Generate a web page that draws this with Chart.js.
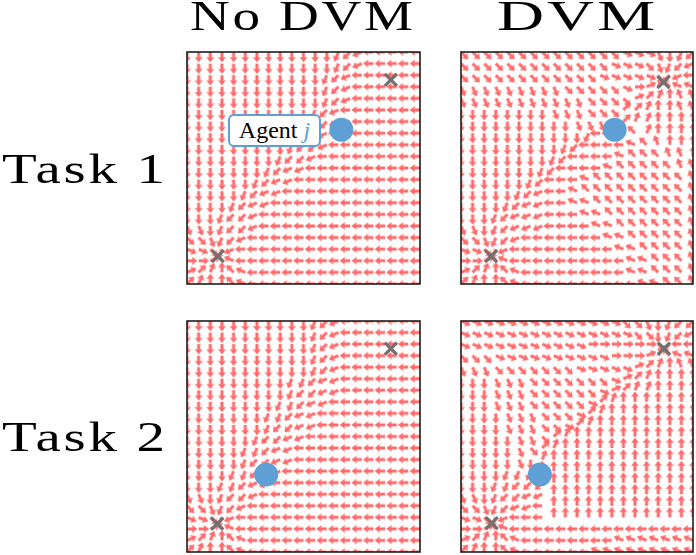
<!DOCTYPE html>
<html>
<head>
<meta charset="utf-8">
<script src="https://cdn.jsdelivr.net/npm/chart.js@4.4.1/dist/chart.umd.min.js"></script>
<style>
  body { margin: 0; background: #fff; }
  #wrap { position: relative; width: 696px; height: 555px; overflow: hidden; background: #fff; }
  #wrap canvas { position: absolute; }
  .lbl { position: absolute; font-family: "Liberation Serif", serif; font-size: 42px; line-height: 42px; white-space: pre; color: #000;
    letter-spacing: 2px; transform-origin: 0 0; }
  #agentTag { position: absolute; left: 228px; top: 114px; width: 89px; height: 29px; border: 2.5px solid #5ea0d6; border-radius: 6px; background: #fff;
    font-family: "Liberation Serif", serif; font-size: 24px; line-height: 29px; text-align: center; color: #000; box-sizing: content-box; }
  #agentTag i { color: #5ea0d6; }
</style>
</head>
<body>
<div id="wrap">
  <div class="lbl" id="colT0"></div>
  <div class="lbl" id="colT1"></div>
  <div class="lbl" id="rowT0"></div>
  <div class="lbl" id="rowT1"></div>
  <canvas id="c0"></canvas>
  <canvas id="c1"></canvas>
  <canvas id="c2"></canvas>
  <canvas id="c3"></canvas>
  <div id="agentTag">Agent <i>j</i></div>
</div>
<script>
const columnTitles = ["No DVM", "DVM"];
const rowTitles = ["Task 1", "Task 2"];

// grid of the quiver, arrow tails sit on these values
const gridX = [0, 1, 2, 3, 4, 5, 6, 7, 8, 9, 10, 11, 12, 13, 14, 15, 16, 17, 18, 19, 20];
const gridY = [20, 19, 18, 17, 16, 15, 14, 13, 12, 11, 10, 9, 8, 7, 6, 5, 4, 3, 2, 1, 0];

// arrow direction, one hex digit per arrow, top row first
// 0 = right, counter-clockwise in steps of 22.5 deg (4 = up, 8 = left, c = down)
const task1NoDvm = [
  "cccccccccccccba988888",
  "cccccccccccccba988888",
  "ccccccccccccba9888888",
  "ccccccccccccba9888888",
  "ccccccccccccba9888888",
  "cccccccccccba98888888",
  "cccccccccccba98888888",
  "ccccccccccba988888888",
  "cccccccccbaa988888888",
  "ccccccccbaa9888888888",
  "cccccccba998888888888",
  "ccccccba9988888888888",
  "cccccba99888888888888",
  "ccccba998888888888888",
  "cccbaa988888888888888",
  "ddcbaa988888888888888",
  "eedba9888888888888888",
  "ffeb98888888888888888",
  "001678888888888888888",
  "123467888888888888888",
  "234467888888888888888"
];
const task1Dvm = [
  "eeeeeeeeeeeeeefffdcba",
  "eeeeeeeeeeeeefffedba9",
  "eeeeeeeeeeeefffffda98",
  "dddddddddeeeeef013677",
  "dddddddddddeeee123455",
  "ccccccccdddeee2234455",
  "ccccccccccddde2334444",
  "cccccccccccb888634444",
  "cccccccccba8888765444",
  "ccccccccba88887666554",
  "cccccccba888876666655",
  "ccccccba8887666666665",
  "cccccba98876666666665",
  "ccccba998877666666665",
  "cccba9998887766666665",
  "ddcba9998888776666665",
  "eedba9888888877666665",
  "ffeb98888888887766665",
  "001678888888888776665",
  "123467888888888776665",
  "234467888888888877665"
];
const task2NoDvm = [
  "cccccccccccba98888888",
  "cccccccccccba98888888",
  "cccccccccccba98888888",
  "cccccccccccba98888888",
  "cccccccccccba98888888",
  "cccccccccbba998888888",
  "cccccccccbaa998888888",
  "ccccccccbba9988888888",
  "cccccccbba99888888888",
  "cccccccbaa99888888888",
  "ccccccbaa998888888888",
  "cccccbba9988888888888",
  "cccccbaa9988888888888",
  "ccccbba99888888888888",
  "cccbba998888888888888",
  "ddcbaa988888888888888",
  "eedba9888888888888888",
  "ffeb98888888888888888",
  "001678888888888888888",
  "123467888888888888888",
  "234467888888888888888"
];
const task2Dvm = [
  "ffffffffffffffeedcbaa",
  "fffffffffffffffeecba9",
  "fffffffffff000000ea88",
  "eeeffffffffff00013677",
  "dddeeeeeeefffff123455",
  "cccdddeeeeeeef1234444",
  "cccdddeeeeeef12334444",
  "cccdddeeeeef234444444",
  "ccccdddeeef2344444444",
  "ccccdddeef23444444444",
  "cccccdde2344444444444",
  "cccccde23444444444444",
  "cccccdc34444444444444",
  "ccccbbb44444444444444",
  "cccbbaaa4444444444444",
  "ddcbaa994444444444444",
  "eedba9984444444444444",
  "ffeb98884444444444444",
  "001678888888888888888",
  "123467888888887777777",
  "234467888888777777777"
];

// goal crosses and agent j, in grid units
const goalsTask1NoDvm = [{ x: 2.65, y: 2.4 }, { x: 17.5, y: 17.6 }];
const goalsTask1Dvm = [{ x: 2.6, y: 2.4 }, { x: 17.45, y: 17.4 }];
const goalsTask2NoDvm = [{ x: 2.6, y: 2.45 }, { x: 17.5, y: 17.6 }];
const goalsTask2Dvm = [{ x: 2.65, y: 2.5 }, { x: 17.5, y: 17.6 }];
const agentTask1 = [{ x: 13.25, y: 13.3 }];
const agentTask2 = [{ x: 6.8, y: 6.7 }];

const arrowColor = "#ff6a6a";
const goalColor = "#717171";
const agentColor = "#5ea0d6";
const pad = 3;

const panels = [
  { canvas: "c0", left: 187, top: 52, w: 233, h: 232, field: task1NoDvm, goals: goalsTask1NoDvm, agent: agentTask1 },
  { canvas: "c1", left: 461, top: 52, w: 232, h: 232, field: task1Dvm, goals: goalsTask1Dvm, agent: agentTask1 },
  { canvas: "c2", left: 187, top: 321, w: 233, h: 231, field: task2NoDvm, goals: goalsTask2NoDvm, agent: agentTask2 },
  { canvas: "c3", left: 461, top: 321, w: 232, h: 231, field: task2Dvm, goals: goalsTask2Dvm, agent: agentTask2 }
];

// quiver arrow, the tail is the middle of the image so it pivots there
function makeArrow() {
  const c = document.createElement("canvas");
  c.width = 26;
  c.height = 12;
  const g = c.getContext("2d");
  const x0 = 13, y0 = 6;
  g.fillStyle = arrowColor;
  g.beginPath();
  g.moveTo(x0, y0 - 1.5);
  g.lineTo(x0 + 5.6, y0 - 1.5);
  g.lineTo(x0 + 5.0, y0 - 3.9);
  g.lineTo(x0 + 10.4, y0);
  g.lineTo(x0 + 5.0, y0 + 3.9);
  g.lineTo(x0 + 5.6, y0 + 1.5);
  g.lineTo(x0, y0 + 1.5);
  g.closePath();
  g.fill();
  return c;
}
const arrowImg = makeArrow();

const framePlugin = {
  id: "frame",
  afterDatasetsDraw(chart) {
    const a = chart.chartArea;
    const g = chart.ctx;
    g.save();
    g.strokeStyle = "#1d1d1d";
    g.lineWidth = 1.6;
    g.strokeRect(a.left, a.top, a.right - a.left, a.bottom - a.top);
    g.restore();
  }
};

panels.forEach((p) => {
  const cv = document.getElementById(p.canvas);
  cv.width = p.w + pad * 2;
  cv.height = p.h + pad * 2;
  cv.style.left = (p.left - pad) + "px";
  cv.style.top = (p.top - pad) + "px";

  const arrows = [];
  p.field.forEach((row, r) => {
    for (let c = 0; c < row.length; c++) {
      arrows.push({ x: gridX[c], y: gridY[r], a: parseInt(row[c], 16) * 22.5 });
    }
  });

  new Chart(cv.getContext("2d"), {
    type: "scatter",
    data: {
      datasets: [
        {
          data: p.agent,
          pointStyle: "circle",
          pointRadius: 12,
          pointBorderWidth: 0,
          pointBackgroundColor: agentColor,
          clip: 0
        },
        {
          data: p.goals,
          pointStyle: "crossRot",
          pointRadius: 8.5,
          pointBorderWidth: 3.2,
          pointBorderColor: goalColor,
          clip: 0
        },
        {
          data: arrows,
          pointStyle: arrowImg,
          pointRadius: 6,
          pointRotation: (ctx) => (ctx.raw ? -ctx.raw.a : 0),
          clip: 0
        }
      ]
    },
    options: {
      responsive: false,
      animation: false,
      events: [],
      layout: { padding: pad, autoPadding: false },
      plugins: { legend: { display: false }, tooltip: { enabled: false } },
      scales: {
        x: { type: "linear", min: 0, max: 20, display: false },
        y: { type: "linear", min: 0, max: 20, display: false }
      }
    },
    plugins: [framePlugin]
  });
});

// titles: left edge, baseline and width
function placeText(id, text, left, baseline, width) {
  const el = document.getElementById(id);
  el.textContent = text;
  el.style.left = left + "px";
  el.style.top = (baseline - 42 * 0.8375) + "px";
  const w = el.getBoundingClientRect().width - 2;
  el.style.transform = "scaleX(" + (width / w) + ")";
}
placeText("colT0", columnTitles[0], 190, 30, 223);
placeText("colT1", columnTitles[1], 497, 30, 158);
placeText("rowT0", rowTitles[0], 2, 183, 163);
placeText("rowT1", rowTitles[1], 2, 451, 163);
</script>
</body>
</html>
